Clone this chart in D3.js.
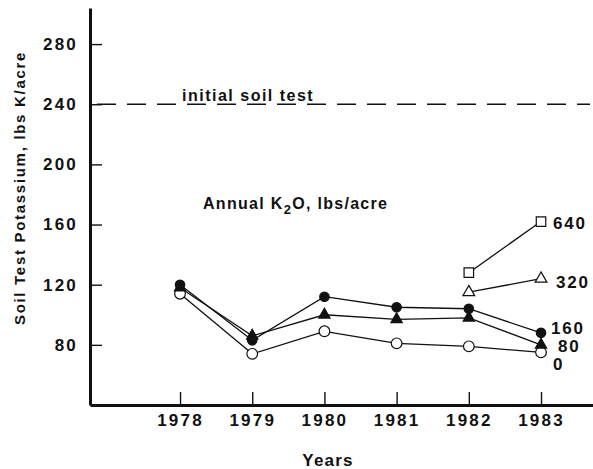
<!DOCTYPE html>
<html>
<head>
<meta charset="utf-8">
<script src="https://cdn.jsdelivr.net/npm/d3@7"></script>
<style>
  body { margin: 0; background: #fff; }
  text { font-family: "Liberation Sans", Arial, Helvetica, sans-serif; font-weight: bold; fill: #111; }
</style>
</head>
<body>
<div id="chart"></div>
<script>
'use strict';

var years = [1978, 1979, 1980, 1981, 1982, 1983];
var yTicks = [80, 120, 160, 200, 240, 280];
var initialSoilTest = 240;

// Annual K2O rates, lbs/acre
var rateLabels = ['0', '80', '160', '320', '640'];
var rate0 = [114, 74, 89, 81, 79, 75];
var rate80 = [118, 86, 100, 97, 98, 80];
var rate160 = [120, 83, 112, 105, 104, 88];
var rate320Years = [1982, 1983];
var rate320 = [115, 124];
var rate640Years = [1982, 1983];
var rate640 = [128, 162];

var w, h, svg, x, y, yAxis, xAxis, series, line, sym, labelShift;

w = 593;
h = 469;

svg = d3.select('#chart')
  .append('svg')
  .attr('width', w)
  .attr('height', h);

x = d3.scaleLinear()
  .domain([1976.753, 1983.72])
  .range([90, 593]);

y = d3.scaleLinear()
  .domain([40, 304])
  .range([405, 8]);

// dashed initial soil test line
svg.append('line')
  .attr('x1', 97)
  .attr('x2', 590)
  .attr('y1', y(initialSoilTest))
  .attr('y2', y(initialSoilTest))
  .attr('stroke', '#111')
  .attr('stroke-width', 1.6)
  .attr('stroke-dasharray', '19,11');

svg.append('text')
  .attr('x', 182)
  .attr('y', y(initialSoilTest) - 3)
  .attr('font-size', 16)
  .attr('letter-spacing', 1.5)
  .text('initial soil test');

// axes
yAxis = svg.append('g')
  .attr('transform', 'translate(90,0)')
  .call(d3.axisLeft(y).tickValues(yTicks).tickSizeInner(-12).tickSizeOuter(0).tickPadding(12));

xAxis = svg.append('g')
  .attr('transform', 'translate(0,405)')
  .call(d3.axisBottom(x).tickValues(years).tickFormat(d3.format('d'))
    .tickSizeInner(-13).tickSizeOuter(0).tickPadding(9));

[yAxis, xAxis].forEach(function(g) {
  g.select('.domain').attr('stroke', '#111').attr('stroke-width', 3);
  g.selectAll('.tick line').attr('stroke', '#111').attr('stroke-width', 1.4);
  g.selectAll('.tick text')
    .attr('font-size', 17)
    .attr('letter-spacing', 2.2)
    .attr('font-family', '"Liberation Sans", Arial, sans-serif')
    .attr('font-weight', 'bold')
    .attr('fill', '#111');
});

// axis titles
svg.append('text')
  .attr('x', 328)
  .attr('y', 466)
  .attr('text-anchor', 'middle')
  .attr('font-size', 17)
  .attr('letter-spacing', 1.2)
  .text('Years');

svg.append('text')
  .attr('transform', 'translate(25,188) rotate(-90)')
  .attr('text-anchor', 'middle')
  .attr('font-size', 15)
  .attr('letter-spacing', 1.7)
  .text('Soil Test Potassium, lbs K/acre');

var legendTitle = svg.append('text')
  .attr('x', 203)
  .attr('y', 209)
  .attr('font-size', 16)
  .attr('letter-spacing', 1.3);
legendTitle.append('tspan').text('Annual K');
legendTitle.append('tspan').attr('dy', 5).attr('font-size', 13).text('2');
legendTitle.append('tspan').attr('dy', -5).text('O, lbs/acre');

// series
series = [
  { name: rateLabels[0], yrs: years, vals: rate0, shape: d3.symbolCircle, fill: '#fff', size: 90 },
  { name: rateLabels[1], yrs: years, vals: rate80, shape: d3.symbolTriangle, fill: '#111', size: 55 },
  { name: rateLabels[2], yrs: years, vals: rate160, shape: d3.symbolCircle, fill: '#111', size: 70 },
  { name: rateLabels[3], yrs: rate320Years, vals: rate320, shape: d3.symbolTriangle, fill: '#fff', size: 60 },
  { name: rateLabels[4], yrs: rate640Years, vals: rate640, shape: d3.symbolSquare, fill: '#fff', size: 90 }
];

line = d3.line()
  .x(function(d) { return x(d[0]); })
  .y(function(d) { return y(d[1]); });

series.forEach(function(s) {
  var pts = s.yrs.map(function(yr, i) { return [yr, s.vals[i]]; });

  svg.append('path')
    .datum(pts)
    .attr('d', line)
    .attr('fill', 'none')
    .attr('stroke', '#111')
    .attr('stroke-width', 1.3);
});

series.forEach(function(s) {
  var pts = s.yrs.map(function(yr, i) { return [yr, s.vals[i]]; });
  sym = d3.symbol().type(s.shape).size(s.size);

  svg.selectAll(null)
    .data(pts)
    .enter()
    .append('path')
    .attr('d', sym)
    .attr('transform', function(d) { return 'translate(' + x(d[0]) + ',' + y(d[1]) + ')'; })
    .attr('fill', s.fill)
    .attr('stroke', '#111')
    .attr('stroke-width', 1.2);
});

// end labels, nudged apart where the lines crowd together
labelShift = { '0': [12, 12], '80': [17, 1], '160': [10, -5], '320': [15, 3], '640': [12, 1] };

series.forEach(function(s) {
  var last = s.vals.length - 1;
  svg.append('text')
    .attr('x', x(s.yrs[last]) + labelShift[s.name][0])
    .attr('y', y(s.vals[last]) + labelShift[s.name][1])
    .attr('dy', '0.36em')
    .attr('font-size', 17)
    .attr('letter-spacing', 1.8)
    .text(s.name);
});
</script>
</body>
</html>
